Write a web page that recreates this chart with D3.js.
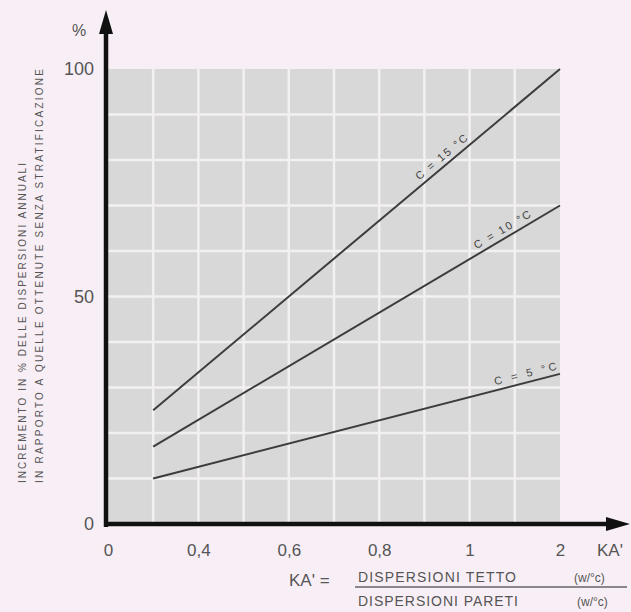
<!DOCTYPE html>
<html><head><meta charset="utf-8">
<script src="https://cdn.jsdelivr.net/npm/d3@7"></script>
<style>html,body{margin:0;padding:0;background:#f8eff6;}svg{display:block;}</style>
</head><body>
<svg id="c" width="631" height="612"></svg>
<script>
// ---- data ----
const xTickValues = [0, 0.4, 0.6, 0.8, 1, 2];
const xTickLabels = ["0", "0,4", "0,6", "0,8", "1", "2"];
const xGridValues = [0.2, 0.4, 0.5, 0.6, 0.7, 0.8, 0.9, 1, 1.5];
const yTickValues = [0, 50, 100];
const yGridValues = [10, 20, 30, 40, 50, 60, 70, 80, 90];
const seriesNames = ["C = 15 °C", "C = 10 °C", "C = 5 °C"];
const seriesKA = [0.2, 2];
const seriesC15 = [25, 100];
const seriesC10 = [17, 70];
const seriesC5 = [10, 33];
const labelKA = [0.95, 1.41, 1.64];
const yTitleLines = ["INCREMENTO IN % DELLE DISPERSIONI ANNUALI", "IN RAPPORTO A QUELLE OTTENUTE SENZA STRATIFICAZIONE"];

const svg = d3.select("#c");
const W = 631, H = 612;
svg.append("rect").attr("width", W).attr("height", H).attr("fill", "#f8eff6");

const x = d3.scaleLinear().domain([0, 0.4, 0.6, 0.8, 1, 2]).range([108, 198.4, 288.8, 379.2, 469.6, 560]);
const y = d3.scaleLinear().domain([0, 100]).range([524, 69]);

// plot background
svg.append("rect").attr("x", x(0)).attr("y", y(100)).attr("width", x(2) - x(0)).attr("height", y(0) - y(100)).attr("fill", "#d8d8d8");

// grid
svg.append("g").selectAll("line").data(xGridValues).join("line")
  .attr("x1", d => x(d)).attr("x2", d => x(d)).attr("y1", y(100)).attr("y2", y(0))
  .attr("stroke", "#f3f0f2").attr("stroke-width", 2.5);
svg.append("g").selectAll("line").data(yGridValues).join("line")
  .attr("x1", x(0)).attr("x2", x(2)).attr("y1", d => y(d)).attr("y2", d => y(d))
  .attr("stroke", "#f3f0f2").attr("stroke-width", 2.5);

// series lines
const font = "Liberation Sans, Arial, sans-serif";
const series = [seriesC15, seriesC10, seriesC5];
const line = d3.line().x(d => x(d[0])).y(d => y(d[1]));
series.forEach((vals, i) => {
  const pts = seriesKA.map((k, j) => [k, vals[j]]);
  svg.append("path").attr("d", line(pts)).attr("fill", "none").attr("stroke", "#3c3c3c").attr("stroke-width", 2);
  const x0 = x(seriesKA[0]), x1 = x(seriesKA[1]), y0 = y(vals[0]), y1 = y(vals[1]);
  const lx = x(labelKA[i]);
  const ly = y0 + (y1 - y0) * (lx - x0) / (x1 - x0);
  const ang = Math.atan2(y1 - y0, x1 - x0) * 180 / Math.PI;
  svg.append("text").attr("transform", `translate(${lx},${ly}) rotate(${ang})`)
    .attr("y", -5).attr("text-anchor", "middle")
    .attr("font-family", font).attr("font-size", 11)
    .attr("fill", "#444").attr("textLength", 64).attr("lengthAdjust", "spacing")
    .text(seriesNames[i]);
});

// axes labels via d3 axes
const yAxis = svg.append("g").attr("transform", "translate(106,0)")
  .call(d3.axisLeft(y).tickValues(yTickValues).tickSize(0).tickPadding(12));
yAxis.select(".domain").remove();
yAxis.selectAll("text").attr("font-family", font).attr("font-size", 18).attr("fill", "#555");

const xAxis = svg.append("g").attr("transform", "translate(0,524)")
  .call(d3.axisBottom(x).tickValues(xTickValues).tickFormat((d, i) => xTickLabels[i]).tickSize(0).tickPadding(20));
xAxis.select(".domain").remove();
xAxis.selectAll("text").attr("font-family", font).attr("font-size", 17).attr("fill", "#555");

// axis arrows
svg.append("line").attr("x1", 106).attr("x2", 106).attr("y1", 527).attr("y2", 28).attr("stroke", "#111").attr("stroke-width", 4.5);
svg.append("path").attr("d", "M106,10 L99,34 L113,34 Z").attr("fill", "#111");
svg.append("line").attr("x1", 104).attr("x2", 610).attr("y1", 524).attr("y2", 524).attr("stroke", "#111").attr("stroke-width", 4.5);
svg.append("path").attr("d", "M630,524 L606,517 L606,531 Z").attr("fill", "#111");

// % and KA'
svg.append("text").attr("x", 79).attr("y", 36).attr("text-anchor", "middle").attr("font-family", font).attr("font-size", 16).attr("fill", "#555").text("%");
svg.append("text").attr("x", 597).attr("y", 556).attr("font-family", font).attr("font-size", 17).attr("fill", "#555").text("KA'");

// y title
yTitleLines.forEach((t, i) => {
  const bx = i === 0 ? 26 : 43;
  const len = i === 0 ? 320 : 414;
  svg.append("text").attr("transform", `translate(${bx},483) rotate(-90)`)
    .attr("font-family", font).attr("font-size", 10).attr("fill", "#555")
    .attr("textLength", len).attr("lengthAdjust", "spacing").text(t);
});

// formula
svg.append("text").attr("x", 289).attr("y", 586).attr("font-family", font).attr("font-size", 17).attr("fill", "#555").text("KA' =");
svg.append("line").attr("x1", 355).attr("x2", 627).attr("y1", 587).attr("y2", 587).attr("stroke", "#666").attr("stroke-width", 1.3);
svg.append("text").attr("x", 358).attr("y", 582).attr("font-family", font).attr("font-size", 14).attr("fill", "#555").attr("textLength", 158).attr("lengthAdjust", "spacing").text("DISPERSIONI TETTO");
svg.append("text").attr("x", 574).attr("y", 582).attr("font-family", font).attr("font-size", 12).attr("fill", "#555").text("(w/°c)");
svg.append("text").attr("x", 358).attr("y", 606).attr("font-family", font).attr("font-size", 14).attr("fill", "#555").attr("textLength", 160).attr("lengthAdjust", "spacing").text("DISPERSIONI PARETI");
svg.append("text").attr("x", 577).attr("y", 606).attr("font-family", font).attr("font-size", 12).attr("fill", "#555").text("(w/°c)");
</script>
</body></html>
